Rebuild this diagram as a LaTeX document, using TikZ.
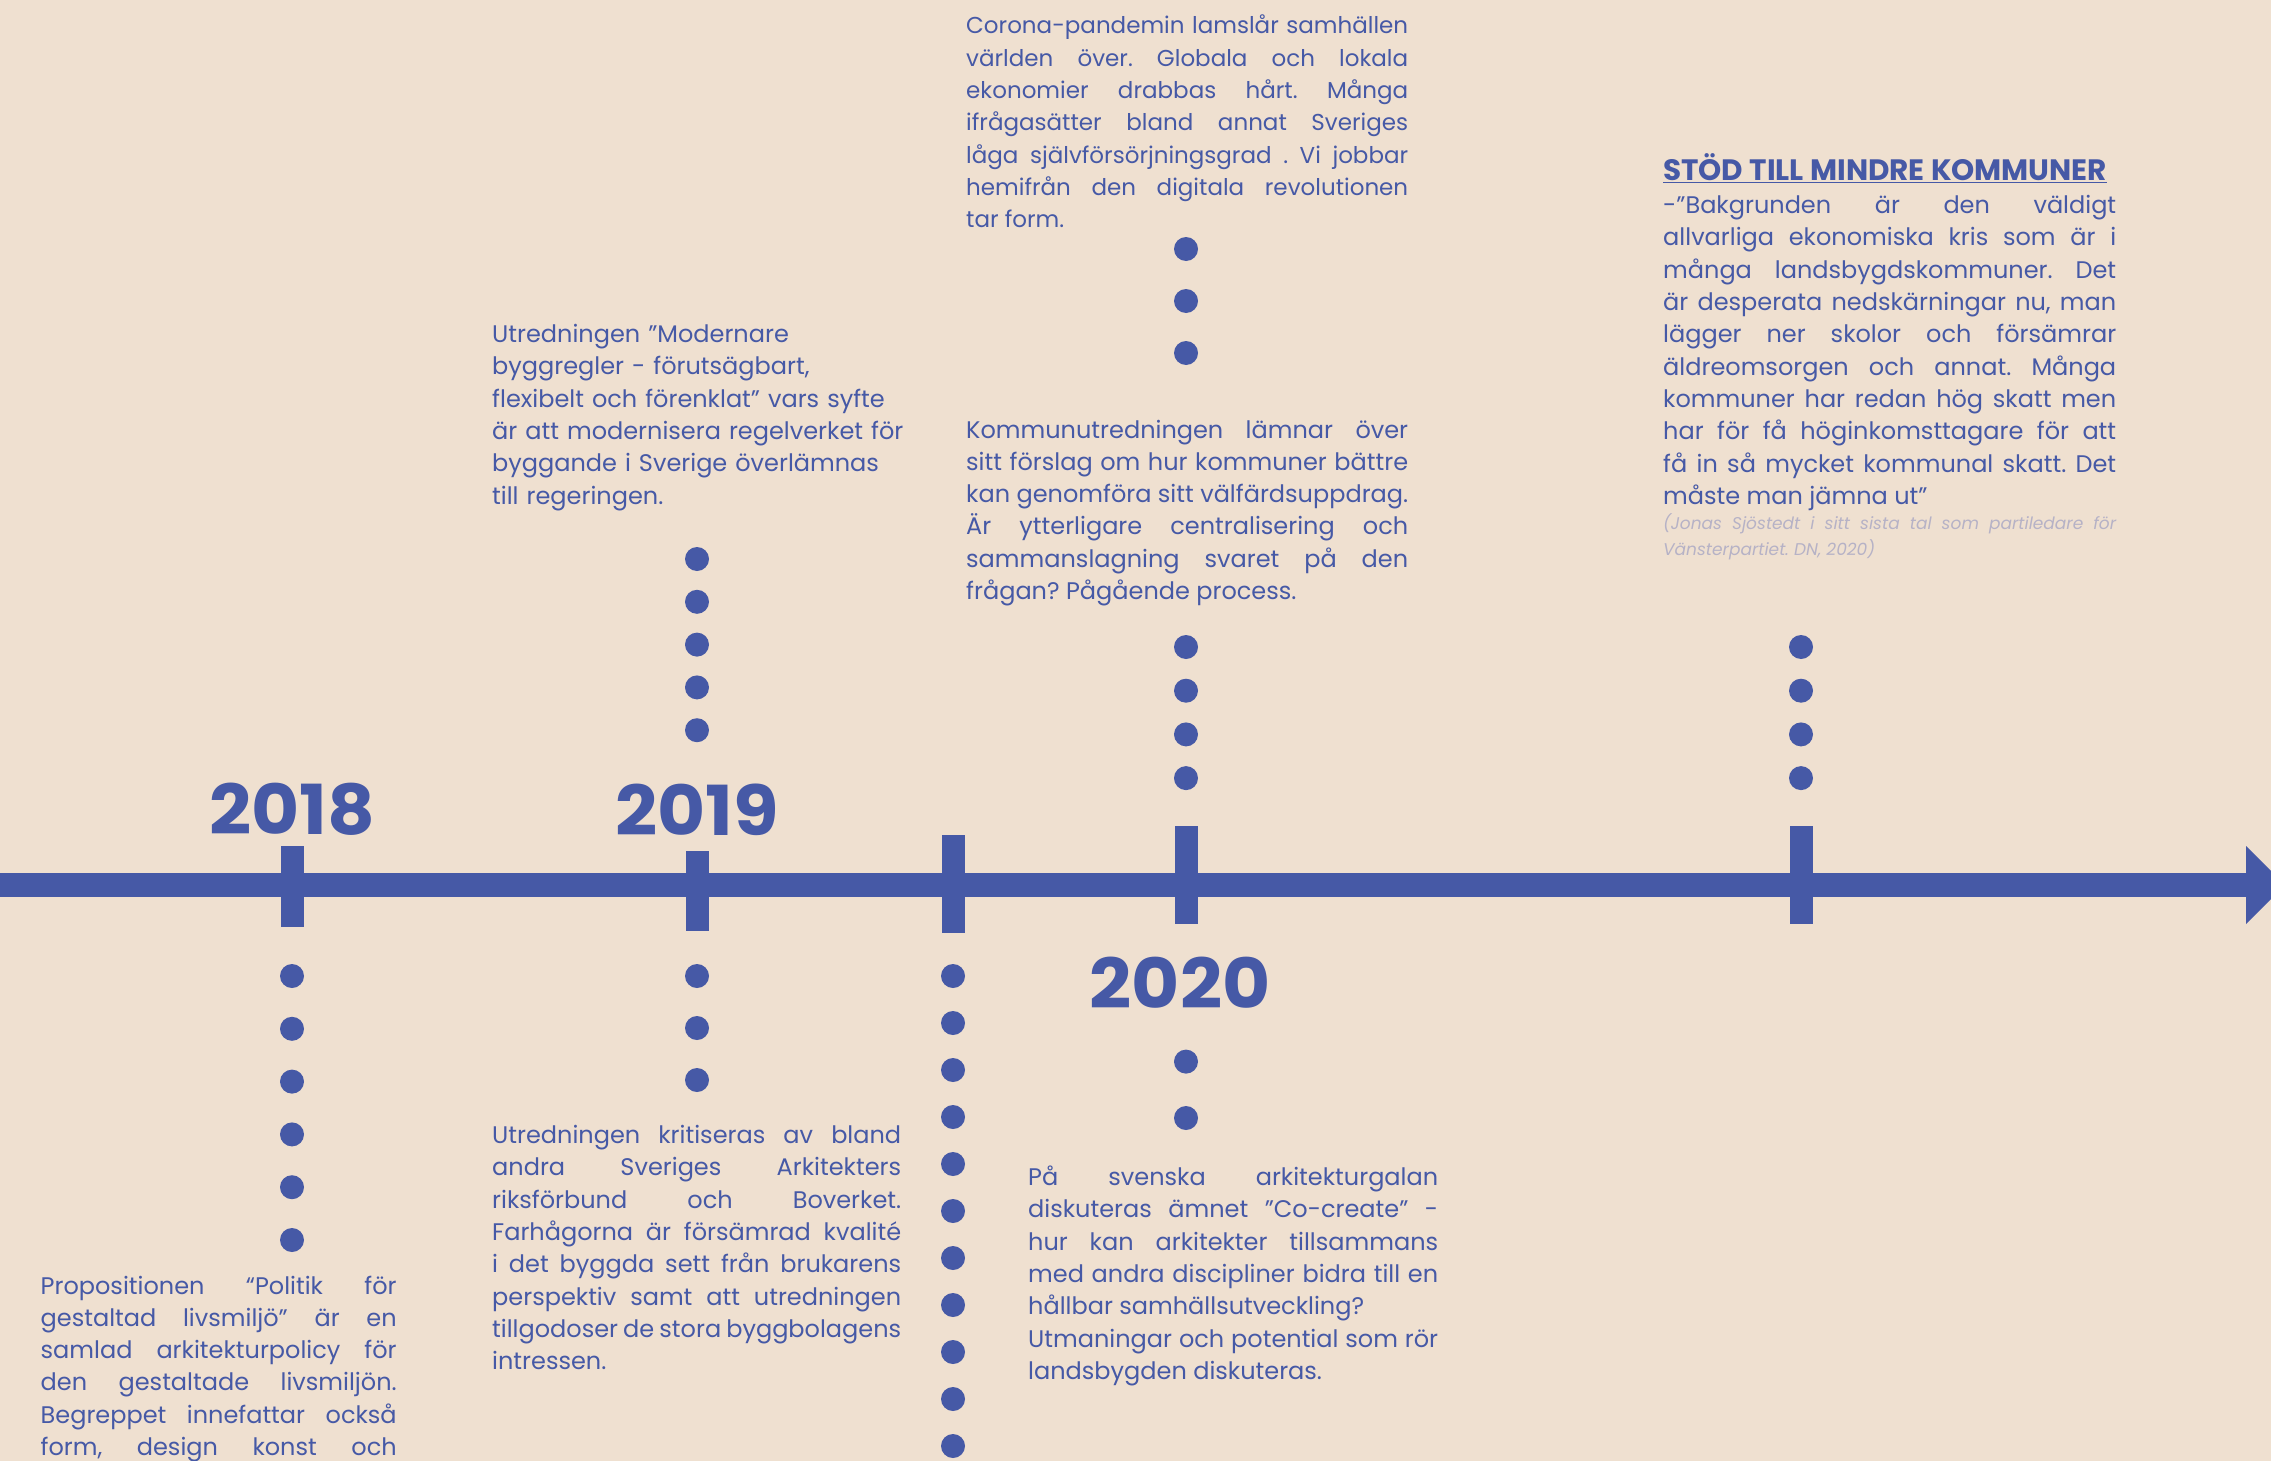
\documentclass[tikz,border=0pt]{standalone}
\usepackage{fontspec}
\setmainfont{Poppins}
\usetikzlibrary{positioning}

\definecolor{tlblue}{RGB}{70,89,166}
\definecolor{tlbg}{RGB}{239,224,208}
\definecolor{tlgray}{RGB}{182,178,198}

\frenchspacing
\newcommand{\descfont}{\fontsize{24}{32.3}\selectfont\hyphenpenalty=10000\relax\tolerance=10000\relax}
\newcommand{\citefont}{\fontsize{17}{26}\selectfont\itshape\tolerance=10000\relax}
\newcommand{\yearnum}[1]{\scalebox{1.07}[1]{#1}}

\tikzset{
  desc/.style={text=tlblue, anchor=base west, inner sep=0pt, align=justify, font=\descfont},
  tickbar/.style={fill=tlblue, inner sep=0pt, minimum width=23pt},
  dot/.style={circle, fill=tlblue, inner sep=0pt, minimum size=24pt},
  year/.style={text=tlblue, inner sep=0pt, font=\fontsize{69}{69}\selectfont\bfseries}
}

\begin{document}
\begin{tikzpicture}[x=1pt, y=1pt]
  \fill[tlbg] (0,0) rectangle (2271,-1461);
  \clip (0,0) rectangle (2271,-1461);

  \coordinate (start) at (0,-885);
  \coordinate (end) at (2246,-885);
  \draw[line width=24pt, tlblue] (start) -- (end);
  \fill[tlblue] (2246,-846) -- (2285,-885) -- (2246,-924) -- cycle;

  \node[tickbar, minimum height=81pt] (t18) at (292,-886.5) {};
  \node[tickbar, minimum height=80pt] (t19) at (697,-891) {};
  \node[tickbar, minimum height=98pt] (tmid) at (953,-884) {};
  \node[tickbar, minimum height=98pt] (t20) at (1186,-875) {};
  \node[tickbar, minimum height=98pt] (tend) at (1801,-875) {};

  \node[year, above=10pt of t18] (y18) {\yearnum{2018}};
  \node[year, above=15pt of t19] (y19) {\yearnum{2019}};
  \node[year, below=33pt of t20, xshift=-6pt] (y20) {\yearnum{2020}};

  \foreach \i in {1,...,6} \node[dot] (a\i) at (292,{-976-52.8*(\i-1)}) {};
  \foreach \i in {1,...,5} \node[dot] (b\i) at (697,{-559-42.8*(\i-1)}) {};
  \foreach \i in {1,...,3} \node[dot] (c\i) at (697,{-976-52*(\i-1)}) {};
  \foreach \i in {1,...,11} \node[dot] (d\i) at (953,{-976-47*(\i-1)}) {};
  \foreach \i in {1,...,3} \node[dot] (e\i) at (1186,{-249-52*(\i-1)}) {};
  \foreach \i in {1,...,4} \node[dot] (f\i) at (1186,{-647-43.7*(\i-1)}) {};
  \foreach \i in {1,...,2} \node[dot] (g\i) at (1186,{-1061.6-56.4*(\i-1)}) {};
  \foreach \i in {1,...,4} \node[dot] (h\i) at (1801,{-647-43.7*(\i-1)}) {};

  \node[desc, text width=356pt] (prop) at (40.5,-1294) {\parfillskip=0pt
    Propositionen “Politik för\linebreak
    gestaltad livsmiljö” är en\linebreak
    samlad arkitekturpolicy för\linebreak
    den gestaltade livsmiljön.\linebreak
    Begreppet innefattar också\linebreak
    form, design konst och\par};

  \node[desc, align=left, text width=440pt] (modern) at (492,-342.5) {%
    Utredningen ”Modernare\\
    byggregler - förutsägbart,\\
    flexibelt och förenklat” vars syfte\\
    är att modernisera regelverket för\\
    byggande i Sverige överlämnas\\
    till regeringen.};

  \node[desc, text width=409pt] (kritik) at (492,-1143.5) {%
    Utredningen kritiseras av bland\linebreak
    andra Sveriges Arkitekters\linebreak
    riksförbund och Boverket.\linebreak
    Farhågorna är försämrad kvalité\linebreak
    i det byggda sett från brukarens\linebreak
    perspektiv samt att utredningen\linebreak
    tillgodoser de stora byggbolagens\linebreak
    intressen.};

  \node[desc, text width=442pt] (corona) at (966,-34) {\fontsize{23}{32.3}\selectfont
    Corona-pandemin lamslår samhällen\linebreak
    världen över. Globala och lokala\linebreak
    ekonomier drabbas hårt. Många\linebreak
    ifrågasätter bland annat Sveriges\linebreak
    låga självförsörjningsgrad . Vi jobbar\linebreak
    hemifrån den digitala revolutionen\linebreak
    tar form.};

  \node[desc, text width=442pt] (kommun) at (966,-438) {%
    Kommunutredningen lämnar över\linebreak
    sitt förslag om hur kommuner bättre\linebreak
    kan genomföra sitt välfärdsuppdrag.\linebreak
    Är ytterligare centralisering och\linebreak
    sammanslagning svaret på den\linebreak
    frågan? Pågående process.};

  \node[desc, text width=410pt] (galan) at (1028,-1185.5) {%
    På svenska arkitekturgalan\linebreak
    diskuteras ämnet ”Co-create” -\linebreak
    hur kan arkitekter tillsammans\linebreak
    med andra discipliner bidra till en\linebreak
    hållbar samhällsutveckling?\\
    Utmaningar och potential som rör\linebreak
    landsbygden diskuteras.};

  \node[text=tlblue, anchor=base west, inner sep=0pt, font=\fontsize{29.5}{29.5}\selectfont\bfseries]
    (stod) at (1663,-181) {\underline{STÖD TILL MINDRE KOMMUNER}};
  \node[desc, text width=453pt] (quote) at (1663,-213.7) {%
    -”Bakgrunden är den väldigt\linebreak
    allvarliga ekonomiska kris som är i\linebreak
    många landsbygdskommuner. Det\linebreak
    är desperata nedskärningar nu, man\linebreak
    lägger ner skolor och försämrar\linebreak
    äldreomsorgen och annat. Många\linebreak
    kommuner har redan hög skatt men\linebreak
    har för få höginkomsttagare för att\linebreak
    få in så mycket kommunal skatt. Det\linebreak
    måste man jämna ut”};
  \node[desc, text width=453pt, text=tlgray, font=\citefont] (source) at (1663,-529) {%
    (Jonas Sjöstedt i sitt sista tal som partiledare för\linebreak
    Vänsterpartiet. DN, 2020)};
\end{tikzpicture}
\end{document}
